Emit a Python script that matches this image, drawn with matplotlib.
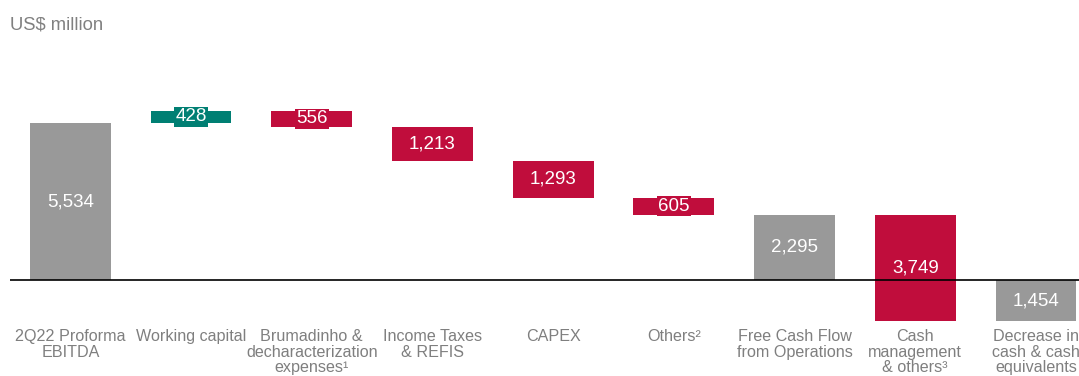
import numpy as np
import matplotlib.pyplot as plt

plt.rcParams['font.family'] = ['Liberation Sans', 'DejaVu Sans']

categories = ['2Q22 Proforma\nEBITDA', 'Working capital', 'Brumadinho &\ndecharacterization\nexpenses\u00b9',
              'Income Taxes\n& REFIS', 'CAPEX', 'Others\u00b2', 'Free Cash Flow\nfrom Operations',
              'Cash\nmanagement\n& others\u00b3', 'Decrease in\ncash & cash\nequivalents']
values = [5534, 428, -556, -1213, -1293, -605, 2295, -3749, -1454]
is_total = [True, False, False, False, False, False, True, False, True]

GRAY = '#999999'
TEAL = '#007f73'
RED = '#c00d3c'

fig = plt.figure(figsize=(10.79, 3.76), dpi=100)
ax = fig.add_axes([10 / 1079, 51 / 376, 1069 / 1079, 225 / 376])

x = np.arange(len(values))
running = 0
for i, v in enumerate(values):
    if is_total[i]:
        bottom, height = 0, v
        color = GRAY
        running = v
    else:
        bottom, height = running, v
        color = TEAL if v > 0 else RED
        running += v
    ax.bar(x[i], height, bottom=bottom, width=0.67, color=color, zorder=2)
    ax.text(x[i], bottom + height / 2, f'{abs(v):,}', ha='center', va='center',
            color='white', fontsize=13.5, zorder=3,
            bbox=dict(boxstyle='square,pad=0.08', fc=color, ec='none'))

ax.axhline(0, color='black', linewidth=1.2, zorder=4)
ax.set_xlim(-0.5, (1079 - 70) / 120.75)
ax.set_ylim(-1586, 6345)
ax.set_xticks(x, categories)
ax.tick_params(axis='x', length=0, pad=3, labelsize=11.6, labelcolor='#7f7f7f')
for lbl in ax.get_xticklabels():
    lbl.set_linespacing(1.05)
ax.set_yticks([])
for s in ax.spines.values():
    s.set_visible(False)

fig.text(10 / 1079, 1 - 25 / 376, 'US$ million', ha='left', va='center',
         fontsize=13.3, color='#808080')

fig.savefig('out.png', dpi=100)
